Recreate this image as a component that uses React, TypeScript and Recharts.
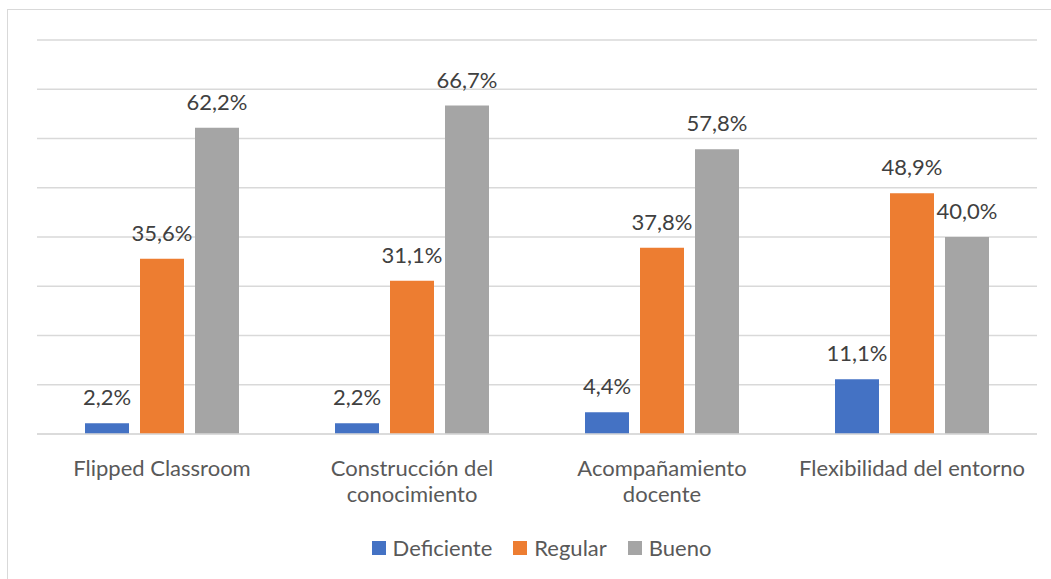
import React from 'react';
import { BarChart, Bar, XAxis, YAxis, CartesianGrid, LabelList } from 'recharts';

const categories = [
  'Flipped Classroom',
  'Construcción del conocimiento',
  'Acompañamiento docente',
  'Flexibilidad del entorno',
];
const deficiente = [2.2, 2.2, 4.4, 11.1];
const regular = [35.6, 31.1, 37.8, 48.9];
const bueno = [62.2, 66.7, 57.8, 40.0];
const yTicks = [0, 10, 20, 30, 40, 50, 60, 70, 80];

const seriesInfo = [
  { key: 'Deficiente', color: '#4472C4' },
  { key: 'Regular', color: '#ED7D31' },
  { key: 'Bueno', color: '#A5A5A5' },
];

const data = categories.map((c, i) => ({
  name: c,
  Deficiente: deficiente[i],
  Regular: regular[i],
  Bueno: bueno[i],
}));

const FONT = 'Lato, "Open Sans", sans-serif';
const FS = 22;
const WRAP = 238;
const fmt = (v: any) => Number(v).toFixed(1).replace('.', ',') + '%';

let ctx: CanvasRenderingContext2D | null = null;
const measure = (s: string) => {
  if (!ctx && typeof document !== 'undefined') {
    ctx = document.createElement('canvas').getContext('2d');
  }
  if (!ctx) return s.length * FS * 0.5;
  ctx.font = `${FS}px Lato`;
  return ctx.measureText(s).width;
};

const wrapLines = (text: string) => {
  const words = text.split(' ');
  const lines: string[] = [];
  let cur = '';
  words.forEach((w) => {
    const t = cur ? cur + ' ' + w : w;
    if (cur && measure(t) > WRAP) {
      lines.push(cur);
      cur = w;
    } else {
      cur = t;
    }
  });
  if (cur) lines.push(cur);
  return lines;
};

const CategoryTick = (props: any) => {
  const { x, y, payload } = props;
  const lines = wrapLines(String(payload.value));
  return (
    <text
      x={x}
      y={y}
      textAnchor="middle"
      fill="#595959"
      style={{ fontFamily: FONT, fontSize: FS }}
    >
      {lines.map((l, i) => (
        <tspan key={i} x={x} dy={i === 0 ? 34 : 26}>
          {l}
        </tspan>
      ))}
    </text>
  );
};

export default function App() {
  return (
    <div style={{ position: 'absolute', left: 0, top: 0, width: 1051, height: 579, background: '#fff', overflow: 'hidden' }}>
      <div
        style={{
          position: 'absolute',
          left: 7,
          top: 9,
          width: 1100,
          height: 620,
          borderTop: '1.5px solid #D9D9D9',
          borderLeft: '1.5px solid #D9D9D9',
        }}
      />
      <BarChart
        width={1051}
        height={579}
        data={data}
        margin={{ top: 40, right: 14, left: 37, bottom: 115 }}
        barGap={11}
        barCategoryGap={48}
        style={{ position: 'absolute', left: 0, top: 0 }}
      >
        <CartesianGrid vertical={false} stroke="#D9D9D9" strokeWidth={1.3} />
        <XAxis
          dataKey="name"
          height={30}
          axisLine={{ stroke: '#D9D9D9', strokeWidth: 1.3 }}
          tickLine={false}
          interval={0}
          tick={<CategoryTick />}
        />
        <YAxis hide domain={[0, 80]} ticks={yTicks} />
        {seriesInfo.map((s) => (
          <Bar key={s.key} dataKey={s.key} fill={s.color} isAnimationActive={false}>
            <LabelList
              dataKey={s.key}
              position="top"
              offset={18}
              formatter={fmt}
              fill="#404040"
              style={{ fontFamily: FONT, fontSize: FS }}
            />
          </Bar>
        ))}
      </BarChart>
      <div
        style={{
          position: 'absolute',
          left: 0,
          top: 535,
          width: 1051,
          paddingLeft: 32,
          boxSizing: 'border-box',
          display: 'flex',
          justifyContent: 'center',
          alignItems: 'center',
          fontFamily: FONT,
          fontSize: FS,
          lineHeight: '26px',
          color: '#595959',
        }}
      >
        {seriesInfo.map((s) => (
          <div key={s.key} style={{ display: 'flex', alignItems: 'center', margin: '0 10.5px' }}>
            <span style={{ display: 'inline-block', width: 14, height: 14, background: s.color, marginRight: 7 }} />
            <span>{s.key}</span>
          </div>
        ))}
      </div>
    </div>
  );
}
